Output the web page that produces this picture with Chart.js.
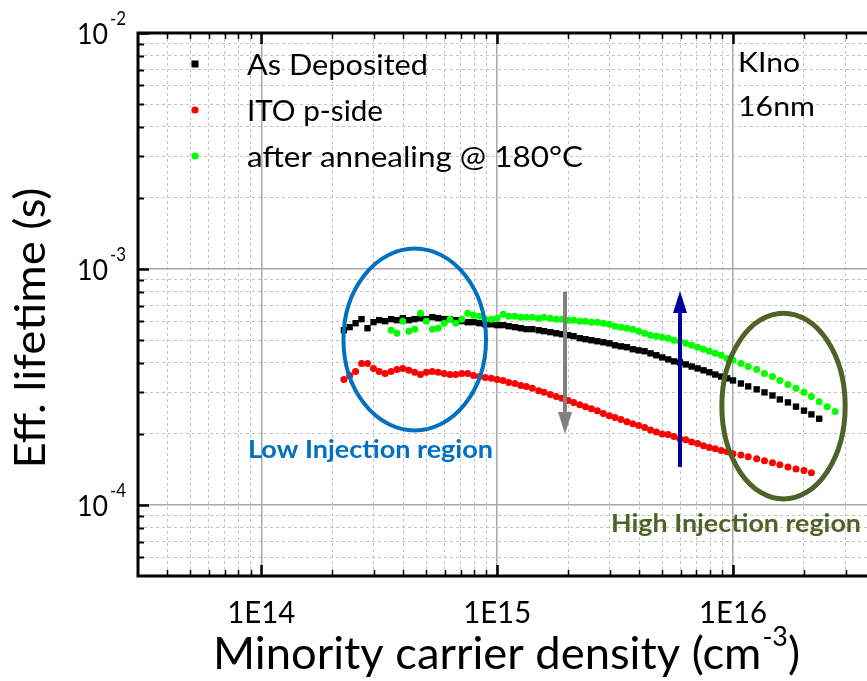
<!DOCTYPE html>
<html>
<head>
<meta charset="utf-8">
<title>Effective lifetime vs minority carrier density</title>
<script src="https://cdn.jsdelivr.net/npm/chart.js"></script>
<style>
  html, body { margin: 0; padding: 0; background: #fff; }
  #wrap { width: 867px; height: 681px; }
</style>
</head>
<body>
<div id="wrap"><canvas id="lifetimeChart" width="867" height="681"></canvas></div>
<script>
// minority carrier density (cm^-3), shared by the three measurements
const density = [
    2.24e14, 2.37e14, 2.51e14, 2.66e14, 2.82e14, 2.99e14, 3.16e14, 3.35e14, 3.55e14, 3.76e14,
    3.98e14, 4.22e14, 4.47e14, 4.73e14, 5.01e14, 5.31e14, 5.62e14, 5.96e14, 6.31e14, 6.68e14,
    7.08e14, 7.50e14, 7.94e14, 8.41e14, 8.91e14, 9.44e14, 1.00e15, 1.06e15, 1.12e15, 1.19e15,
    1.26e15, 1.33e15, 1.41e15, 1.50e15, 1.58e15, 1.68e15, 1.78e15, 1.88e15, 2.00e15, 2.11e15,
    2.24e15, 2.37e15, 2.51e15, 2.66e15, 2.82e15, 2.99e15, 3.16e15, 3.35e15, 3.55e15, 3.76e15,
    3.98e15, 4.22e15, 4.47e15, 4.73e15, 5.01e15, 5.31e15, 5.62e15, 5.96e15, 6.31e15, 6.68e15,
    7.08e15, 7.50e15, 7.94e15, 8.41e15, 8.91e15, 9.44e15, 1.00e16, 1.08e16, 1.16e16, 1.26e16,
    1.36e16, 1.47e16, 1.58e16, 1.71e16, 1.85e16, 2.00e16, 2.15e16, 2.32e16, 2.51e16, 2.71e16
];

// effective lifetime (s)
const asDeposited = [
    5.50e-4, 5.67e-4, 5.89e-4, 6.13e-4, 5.61e-4, 5.95e-4, 6.07e-4, 6.01e-4, 6.13e-4, 6.07e-4,
    6.19e-4, 6.07e-4, 6.13e-4, 6.19e-4, 6.13e-4, 6.25e-4, 6.19e-4, 6.13e-4, 6.13e-4, 6.07e-4,
    6.01e-4, 5.95e-4, 5.95e-4, 5.89e-4, 5.83e-4, 5.83e-4, 5.78e-4, 5.78e-4, 5.72e-4, 5.67e-4,
    5.61e-4, 5.56e-4, 5.56e-4, 5.50e-4, 5.45e-4, 5.40e-4, 5.34e-4, 5.29e-4, 5.24e-4, 5.19e-4,
    5.09e-4, 5.04e-4, 4.99e-4, 4.94e-4, 4.89e-4, 4.84e-4, 4.75e-4, 4.70e-4, 4.66e-4, 4.57e-4,
    4.52e-4, 4.48e-4, 4.39e-4, 4.31e-4, 4.22e-4, 4.14e-4, 4.06e-4, 4.02e-4, 3.94e-4, 3.86e-4,
    3.79e-4, 3.72e-4, 3.65e-4, 3.57e-4, 3.50e-4, 3.44e-4, 3.37e-4, 3.27e-4, 3.18e-4, 3.09e-4,
    3.00e-4, 2.91e-4, 2.80e-4, 2.72e-4, 2.61e-4, 2.51e-4, 2.42e-4, 2.32e-4, null, null
];

const itoPSide = [
    3.40e-4, 3.54e-4, 3.68e-4, 3.98e-4, 3.98e-4, 3.79e-4, 3.68e-4, 3.61e-4, 3.68e-4, 3.75e-4,
    3.79e-4, 3.72e-4, 3.65e-4, 3.57e-4, 3.65e-4, 3.68e-4, 3.65e-4, 3.61e-4, 3.57e-4, 3.57e-4,
    3.61e-4, 3.61e-4, 3.54e-4, 3.50e-4, 3.47e-4, 3.44e-4, 3.40e-4, 3.37e-4, 3.30e-4, 3.27e-4,
    3.21e-4, 3.18e-4, 3.12e-4, 3.05e-4, 3.00e-4, 2.94e-4, 2.88e-4, 2.83e-4, 2.77e-4, 2.72e-4,
    2.66e-4, 2.61e-4, 2.56e-4, 2.51e-4, 2.44e-4, 2.39e-4, 2.35e-4, 2.30e-4, 2.25e-4, 2.21e-4,
    2.17e-4, 2.13e-4, 2.08e-4, 2.04e-4, 2.00e-4, 1.99e-4, 1.95e-4, 1.91e-4, 1.89e-4, 1.85e-4,
    1.82e-4, 1.78e-4, 1.75e-4, 1.73e-4, 1.70e-4, 1.68e-4, 1.65e-4, 1.63e-4, 1.60e-4, 1.57e-4,
    1.54e-4, 1.51e-4, 1.48e-4, 1.45e-4, 1.42e-4, 1.40e-4, 1.37e-4, null, null, null
];

const annealed = [
    null, null, null, null, null, null, null, null, 5.50e-4, 5.34e-4,
    6.01e-4, 5.45e-4, 5.56e-4, 6.50e-4, 6.01e-4, 5.56e-4, 5.61e-4, 5.89e-4, 6.13e-4, 5.89e-4,
    6.13e-4, 6.50e-4, 6.37e-4, 6.31e-4, 6.13e-4, 6.13e-4, 6.19e-4, 6.43e-4, 6.31e-4, 6.31e-4,
    6.25e-4, 6.25e-4, 6.25e-4, 6.19e-4, 6.25e-4, 6.19e-4, 6.13e-4, 6.13e-4, 6.07e-4, 6.07e-4,
    6.01e-4, 6.01e-4, 5.95e-4, 5.95e-4, 5.89e-4, 5.83e-4, 5.72e-4, 5.67e-4, 5.61e-4, 5.56e-4,
    5.45e-4, 5.34e-4, 5.24e-4, 5.19e-4, 5.14e-4, 5.09e-4, 4.99e-4, 4.94e-4, 4.84e-4, 4.75e-4,
    4.66e-4, 4.57e-4, 4.48e-4, 4.39e-4, 4.31e-4, 4.18e-4, 4.10e-4, 3.98e-4, 3.86e-4, 3.75e-4,
    3.61e-4, 3.50e-4, 3.37e-4, 3.24e-4, 3.12e-4, 3.00e-4, 2.88e-4, 2.74e-4, 2.61e-4, 2.49e-4
];

const seriesLabels = ['As Deposited', 'ITO p-side', 'after annealing @ 180°C'];

// axis ticks
const xMajor = [1e14, 1e15, 1e16];
const xTickLabels = ['1E14', '1E15', '1E16'];
const xMinor = [
    4e13, 5e13, 6e13, 7e13, 8e13, 9e13,
    2e14, 3e14, 4e14, 5e14, 6e14, 7e14, 8e14, 9e14,
    2e15, 3e15, 4e15, 5e15, 6e15, 7e15, 8e15, 9e15,
    2e16, 3e16
];
const yMajor = [1e-4, 1e-3, 1e-2];
const yTickExponents = ['-4', '-3', '-2'];
const yMinor = [
    6e-5, 7e-5, 8e-5, 9e-5,
    2e-4, 3e-4, 4e-4, 5e-4, 6e-4, 7e-4, 8e-4, 9e-4,
    2e-3, 3e-3, 4e-3, 5e-3, 6e-3, 7e-3, 8e-3, 9e-3
];

const FONT = "Lato, 'Open Sans', sans-serif";

function toPoints(values) {
    return density.map((x, i) => ({ x: x, y: values[i] })).filter(p => p.y !== null);
}

// draw text at a given size, squeezed horizontally to the wanted width
function fitText(ctx, str, x, y, size, width, opts = {}) {
    ctx.save();
    ctx.font = (opts.bold ? 'bold ' : '') + size + 'px ' + FONT;
    ctx.fillStyle = opts.color || '#000';
    ctx.textAlign = opts.align || 'left';
    ctx.textBaseline = 'alphabetic';
    const natural = ctx.measureText(str).width;
    const sx = width ? width / natural : 1;
    ctx.translate(x, y);
    if (opts.rotate) ctx.rotate(opts.rotate);
    ctx.scale(sx, 1);
    ctx.fillText(str, 0, 0);
    ctx.restore();
    return natural * sx;
}

function measure(ctx, str, size) {
    ctx.font = size + 'px ' + FONT;
    return ctx.measureText(str).width;
}

function gridStyle(majors) {
    const isMajor = c => c.tick && majors.some(v => Math.abs(v - c.tick.value) / v < 1e-6);
    return {
        grid: {
            drawTicks: false,
            color: c => isMajor(c) ? '#a8a8a8' : '#c4c4c4',
            lineWidth: c => isMajor(c) ? 1.5 : 1
        },
        border: {
            display: false,
            dash: c => isMajor(c) ? [] : [3, 3]
        }
    };
}

const decorations = {
    id: 'decorations',
    afterDatasetsDraw(chart) {
        const { ctx, scales: { x, y } } = chart;

        // injection regions
        const ellipse = (x1, x2, y1, y2, color, width) => {
            const px1 = x.getPixelForValue(x1), px2 = x.getPixelForValue(x2);
            const py1 = y.getPixelForValue(y1), py2 = y.getPixelForValue(y2);
            ctx.save();
            ctx.strokeStyle = color;
            ctx.lineWidth = width;
            ctx.beginPath();
            ctx.ellipse((px1 + px2) / 2, (py1 + py2) / 2, Math.abs(px2 - px1) / 2, Math.abs(py2 - py1) / 2, 0, 0, Math.PI * 2);
            ctx.stroke();
            ctx.restore();
        };
        ellipse(2.23e14, 8.97e14, 1.22e-3, 2.07e-4, '#0070c0', 4);
        ellipse(8.97e15, 2.99e16, 6.5e-4, 1.06e-4, '#4f6228', 5);

        // vertical arrows
        const arrow = (xv, fromV, toV, color) => {
            const px = Math.round(x.getPixelForValue(xv));
            const p0 = y.getPixelForValue(fromV), p1 = y.getPixelForValue(toV);
            const dir = p1 > p0 ? 1 : -1;
            const headLen = 22, headHalf = 7;
            ctx.save();
            ctx.strokeStyle = color;
            ctx.fillStyle = color;
            ctx.lineWidth = 4;
            ctx.beginPath();
            ctx.moveTo(px, p0);
            ctx.lineTo(px, p1 - dir * headLen);
            ctx.stroke();
            ctx.beginPath();
            ctx.moveTo(px, p1);
            ctx.lineTo(px - headHalf, p1 - dir * headLen);
            ctx.lineTo(px + headHalf, p1 - dir * headLen);
            ctx.closePath();
            ctx.fill();
            ctx.restore();
        };
        arrow(1.94e15, 8.0e-4, 2.0e-4, '#808080');
        arrow(5.96e15, 1.45e-4, 8.06e-4, '#00009c');

        fitText(ctx, 'Low Injection region', 248, 458, 25, 245, { bold: true, color: '#0070c0' });
        fitText(ctx, 'High Injection region', 611, 532, 25, 250, { bold: true, color: '#4f6228' });
    },
    afterDraw(chart) {
        const { ctx, chartArea: { left, right, top, bottom }, scales: { x, y } } = chart;
        ctx.save();

        // frame
        ctx.strokeStyle = '#000';
        ctx.lineWidth = 3;
        ctx.beginPath();
        ctx.moveTo(left, top);
        ctx.lineTo(right, top);
        ctx.moveTo(left, top - 1.5);
        ctx.lineTo(left, bottom);
        ctx.lineTo(right, bottom);
        ctx.stroke();

        // inward tick marks
        const xTick = (v, len, w) => {
            const px = Math.round(x.getPixelForValue(v)) + 0.5;
            ctx.lineWidth = w;
            ctx.beginPath();
            ctx.moveTo(px, bottom); ctx.lineTo(px, bottom - len);
            ctx.moveTo(px, top); ctx.lineTo(px, top + len);
            ctx.stroke();
        };
        const yTick = (v, len, w) => {
            const py = Math.round(y.getPixelForValue(v)) + 0.5;
            ctx.lineWidth = w;
            ctx.beginPath();
            ctx.moveTo(left, py); ctx.lineTo(left + len, py);
            ctx.stroke();
        };
        xMinor.forEach(v => xTick(v, 6, 1.5));
        xMajor.forEach(v => xTick(v, 11, 2.5));
        yMinor.forEach(v => yTick(v, 6, 2));
        yMajor.forEach(v => yTick(v, 11, 2.5));
        ctx.restore();

        // tick labels
        xMajor.forEach((v, i) => {
            fitText(ctx, xTickLabels[i], x.getPixelForValue(v), 623, 31, 68, { align: 'center' });
        });
        yMajor.forEach((v, i) => {
            const py = y.getPixelForValue(v);
            fitText(ctx, '10', 108, py + 11, 29, 31, { align: 'right' });
            fitText(ctx, yTickExponents[i], 110, py - 8, 19, 16);
        });

        // axis titles
        fitText(ctx, 'Eff. lifetime (s)', 45, 328, 42, 281, { align: 'center', rotate: -Math.PI / 2 });
        const t1 = 'Minority carrier density (cm', t2 = '-3', t3 = ')';
        const w1 = measure(ctx, t1, 44), w2 = measure(ctx, t2, 26), w3 = measure(ctx, t3, 44);
        const sx = 586 / (w1 + w2 + w3);
        let tx = 213;
        tx += fitText(ctx, t1, tx, 669, 44, w1 * sx);
        tx += fitText(ctx, t2, tx + 1, 646, 26, w2 * sx) + 1;
        fitText(ctx, t3, tx, 669, 44, w3 * sx);

        // legend
        const ds = chart.data.datasets;
        const rows = [64, 110, 156];
        ds.forEach((d, i) => {
            ctx.save();
            ctx.fillStyle = d.backgroundColor;
            if (d.pointStyle === 'rect') {
                ctx.fillRect(195 - 3.5, rows[i] - 3.5, 7, 7);
            } else {
                ctx.beginPath();
                ctx.arc(195, rows[i], 3.6, 0, Math.PI * 2);
                ctx.fill();
            }
            ctx.restore();
        });
        fitText(ctx, seriesLabels[0], 247, 75, 28, 181);
        fitText(ctx, seriesLabels[1], 247, 121, 28, 136);
        fitText(ctx, seriesLabels[2], 247, 167, 28, 336);

        // sample note
        fitText(ctx, 'KIno', 738, 72, 27, 62);
        fitText(ctx, '16nm', 738, 116, 27, 77);
    }
};

const xGrid = gridStyle(xMajor);
const yGrid = gridStyle(yMajor);

const ctx = document.getElementById('lifetimeChart').getContext('2d');
const lifetimeChart = new Chart(ctx, {
    type: 'scatter',
    data: {
        datasets: [
            {
                label: seriesLabels[0],
                data: toPoints(asDeposited),
                pointStyle: 'rect',
                pointRadius: 4.5,
                backgroundColor: '#000000',
                borderWidth: 0,
                order: 3
            },
            {
                label: seriesLabels[1],
                data: toPoints(itoPSide),
                pointStyle: 'circle',
                pointRadius: 3.5,
                backgroundColor: '#ff0000',
                borderWidth: 0,
                order: 2
            },
            {
                label: seriesLabels[2],
                data: toPoints(annealed),
                pointStyle: 'circle',
                pointRadius: 3.5,
                backgroundColor: '#00ff00',
                borderWidth: 0,
                order: 1
            }
        ]
    },
    options: {
        responsive: false,
        maintainAspectRatio: false,
        animation: false,
        events: [],
        layout: {
            autoPadding: false,
            padding: { top: 33, right: 0, bottom: 0, left: 0 }
        },
        plugins: {
            legend: { display: false },
            tooltip: { enabled: false }
        },
        scales: {
            x: {
                type: 'logarithmic',
                position: 'bottom',
                min: 3e13,
                max: 3.7e16,
                ticks: { display: false },
                grid: xGrid.grid,
                border: xGrid.border,
                afterBuildTicks: scale => {
                    scale.ticks = xMinor.concat(xMajor).sort((a, b) => a - b).map(v => ({ value: v }));
                },
                afterFit: scale => { scale.height = 105; }
            },
            y: {
                type: 'logarithmic',
                position: 'left',
                min: 5e-5,
                max: 1e-2,
                ticks: { display: false },
                grid: yGrid.grid,
                border: yGrid.border,
                afterBuildTicks: scale => {
                    scale.ticks = yMinor.concat(yMajor).sort((a, b) => a - b).map(v => ({ value: v }));
                },
                afterFit: scale => { scale.width = 138; }
            }
        }
    },
    plugins: [decorations]
});
</script>
</body>
</html>
